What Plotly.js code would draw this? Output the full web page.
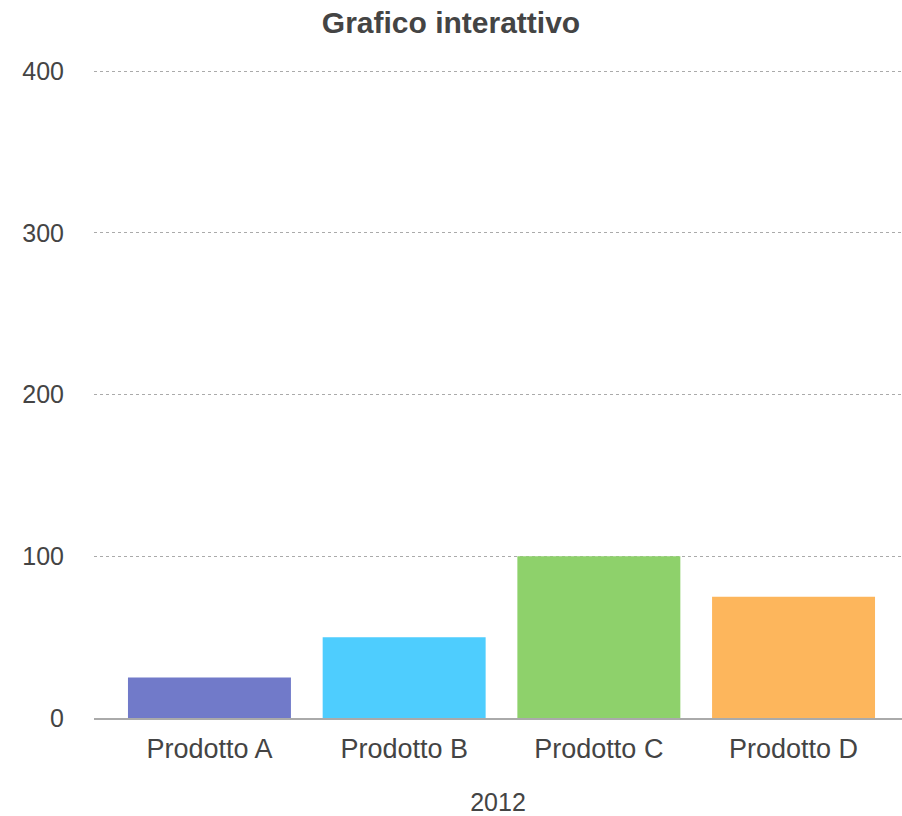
<!DOCTYPE html>
<html>
<head>
<meta charset="utf-8">
<script src="https://cdn.plot.ly/plotly-3.0.1.min.js"></script>
<style>html,body{margin:0;padding:0;background:#fff;}#chart{width:902px;height:816px;}</style>
</head>
<body>
<div id="chart"></div>
<script>
const categories = ["Prodotto A", "Prodotto B", "Prodotto C", "Prodotto D"];
const values = [25, 50, 100, 75];
const barColors = ["#717AC9", "#4ECDFE", "#8ED16B", "#FDB65C"];
const yTicks = [0, 100, 200, 300, 400];
const xAxisTitle = "2012";
const chartTitle = "Grafico interattivo";

const FONT = "Liberation Sans, Arial, sans-serif";

const trace = {
  type: "bar",
  x: categories,
  y: values,
  marker: { color: barColors, line: { width: 0 } },
  hoverinfo: "x+y"
};

const layout = {
  width: 902,
  height: 816,
  margin: { l: 94, r: 0, t: 67, b: 98 },
  paper_bgcolor: "#ffffff",
  plot_bgcolor: "#ffffff",
  font: { family: FONT, size: 25, color: "#444444" },
  showlegend: false,
  bargap: 0.163,
  title: {
    text: chartTitle,
    font: { family: FONT, size: 30, color: "#444444", weight: "bold" },
    x: 0.5,
    xanchor: "center",
    y: 0.973,
    yanchor: "middle"
  },
  xaxis: {
    type: "category",
    range: [-0.593, 3.557],
    showgrid: false,
    zeroline: false,
    showline: true,
    linecolor: "#aaaaaa",
    linewidth: 1.5,
    ticks: "outside",
    ticklen: 6,
    tickcolor: "rgba(0,0,0,0)",
    tickfont: { family: FONT, size: 27, color: "#444444" },
    title: { text: xAxisTitle, font: { family: FONT, size: 25, color: "#444444" }, standoff: 31 },
    fixedrange: true
  },
  yaxis: {
    range: [0, 402.5],
    tickvals: yTicks,
    ticktext: yTicks.map(String),
    showgrid: true,
    gridcolor: "#aaaaaa",
    gridwidth: 1,
    griddash: "dot",
    zeroline: false,
    showline: false,
    ticks: "outside",
    ticklen: 24,
    tickcolor: "rgba(0,0,0,0)",
    tickfont: { family: FONT, size: 25, color: "#444444" },
    fixedrange: true
  }
};

Plotly.newPlot("chart", [trace], layout, { displayModeBar: false });
</script>
</body>
</html>
